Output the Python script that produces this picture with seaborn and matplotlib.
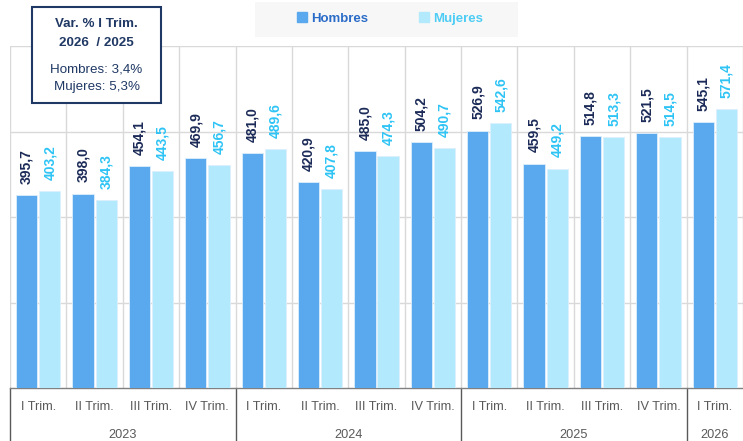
import matplotlib
matplotlib.use("Agg")
import matplotlib.pyplot as plt
from matplotlib import font_manager as fm
from matplotlib.patches import Rectangle
from matplotlib.lines import Line2D
import matplotlib.transforms as mtransforms
import seaborn as sns
import pandas as pd

# ---- data ----
quarters = ["I Trim.", "II Trim.", "III Trim.", "IV Trim.",
            "I Trim.", "II Trim.", "III Trim.", "IV Trim.",
            "I Trim.", "II Trim.", "III Trim.", "IV Trim.",
            "I Trim."]
years = ["2023", "2024", "2025", "2026"]
year_sizes = [4, 4, 4, 1]
hombres = [395.7, 398.0, 454.1, 469.9, 481.0, 420.9, 485.0, 504.2,
           526.9, 459.5, 514.8, 521.5, 545.1]
mujeres = [403.2, 384.3, 443.5, 456.7, 489.6, 407.8, 474.3, 490.7,
           542.6, 449.2, 513.3, 514.5, 571.4]
series = ["Hombres", "Mujeres"]
box_title = ["Var. % I Trim.", "2026  / 2025"]
box_lines = ["Hombres: 3,4%", "Mujeres: 5,3%"]

# ---- fonts ----
sns.set_theme(style="white")
names = {f.name for f in fm.fontManager.ttflist}
font = "Liberation Sans Narrow" if "Liberation Sans Narrow" in names else "Liberation Sans"
plt.rcParams["font.family"] = [font, "DejaVu Sans"]

c_h = "#5AA8EE"
c_m = "#B3E9FC"
c_h_txt = "#1B2A57"
c_m_txt = "#2EC4F5"
grey = "#595959"
grid = "#D9D9D9"

W, H = 743, 441
fig = plt.figure(figsize=(W / 100, H / 100), dpi=100)
ax = fig.add_axes([10 / W, (H - 388) / H, (W - 10) / W, (388 - 46) / H])

periods = [f"P{i}" for i in range(len(quarters))]
df = pd.DataFrame({
    "periodo": periods * 2,
    "sexo": [series[0]] * len(periods) + [series[1]] * len(periods),
    "valor": hombres + mujeres,
})
sns.barplot(data=df, x="periodo", y="valor", hue="sexo", order=periods,
            hue_order=series, palette=[c_h, c_m], saturation=1,
            width=0.82, gap=0.08, edgecolor="#DDEFFC", linewidth=0.6,
            legend=False, ax=ax, zorder=3)

ax.set_xlim(-0.5, len(periods) - 0.5)
ax.set_ylim(0, 700)
ax.set_yticks([175, 350, 525, 700])
ax.set_yticklabels([])
ax.yaxis.grid(True, color=grid, linewidth=1.0, zorder=0)
ax.tick_params(axis="y", length=0)
for b in range(len(periods) + 1):
    ax.axvline(b - 0.5, color=grid, linewidth=1.0, zorder=0)
for s in ["left", "right", "top"]:
    ax.spines[s].set_visible(False)
ax.spines["bottom"].set_color("#808080")
ax.spines["bottom"].set_linewidth(1.0)
ax.set_xlabel("")
ax.set_ylabel("")
ax.set_xticks(range(len(periods)))
ax.set_xticklabels(quarters, color=grey, fontsize=9.2)
ax.tick_params(axis="x", length=0, pad=9)

# value labels
for cont, col in zip(ax.containers, [c_h_txt, c_m_txt]):
    for bar in cont:
        v = bar.get_height()
        ax.annotate(f"{v:.1f}".replace(".", ","),
                    xy=(bar.get_x() + bar.get_width() / 2, v),
                    xytext=(0, 8), textcoords="offset points",
                    rotation=90, ha="center", va="bottom",
                    fontsize=10, fontweight="bold", color=col, zorder=5)

# year labels and separators
trans = mtransforms.blended_transform_factory(ax.transData, ax.transAxes)
ax_h = 388 - 46
start = 0
bounds = [-0.5]
for y, n in zip(years, year_sizes):
    ax.text(start + (n - 1) / 2, -(435 - 388) / ax_h, y, transform=trans,
            ha="center", va="center", color=grey, fontsize=9.2)
    start += n
    bounds.append(start - 0.5)
for bx in bounds[:-1]:
    ax.add_line(Line2D([bx, bx], [0, -(441 - 388) / ax_h], transform=trans,
                       color=grey, linewidth=1.0, clip_on=False))

# legend
fig.patches.append(Rectangle((255 / W, 1 - 37 / H), 263 / W, 35 / H,
                             transform=fig.transFigure, facecolor="#F7F7F7",
                             edgecolor="none", zorder=0))
handles = [Line2D([], [], marker="s", linestyle="none", markersize=6.5,
                  markerfacecolor=c, markeredgecolor=c) for c in [c_h, c_m]]
leg = fig.legend(handles, series, loc="center", ncol=2,
                 bbox_to_anchor=(390 / W, 1 - 19 / H), frameon=False,
                 handlelength=0.7, handletextpad=0.35, columnspacing=3.9,
                 prop={"size": 9.5, "weight": "bold"})
for t, c in zip(leg.get_texts(), ["#2A6CC8", "#4DCDF5"]):
    t.set_color(c)

# variation box
fig.patches.append(Rectangle((32 / W, 1 - 103 / H), 129 / W, 96 / H,
                             transform=fig.transFigure, facecolor="white",
                             edgecolor="#1F3864", linewidth=1.5, zorder=10))
cx = 96.5 / W
navy = "#1F3864"
for txt, yy in zip(box_title, [24, 43]):
    fig.text(cx, 1 - yy / H, txt, ha="center", va="center", fontsize=9.6,
             fontweight="bold", color=navy, zorder=11)
for txt, yy in zip(box_lines, [69, 87]):
    fig.text(cx, 1 - yy / H, txt, ha="center", va="center", fontsize=9.6,
             color=navy, zorder=11)

fig.savefig("out.png", dpi=100)
